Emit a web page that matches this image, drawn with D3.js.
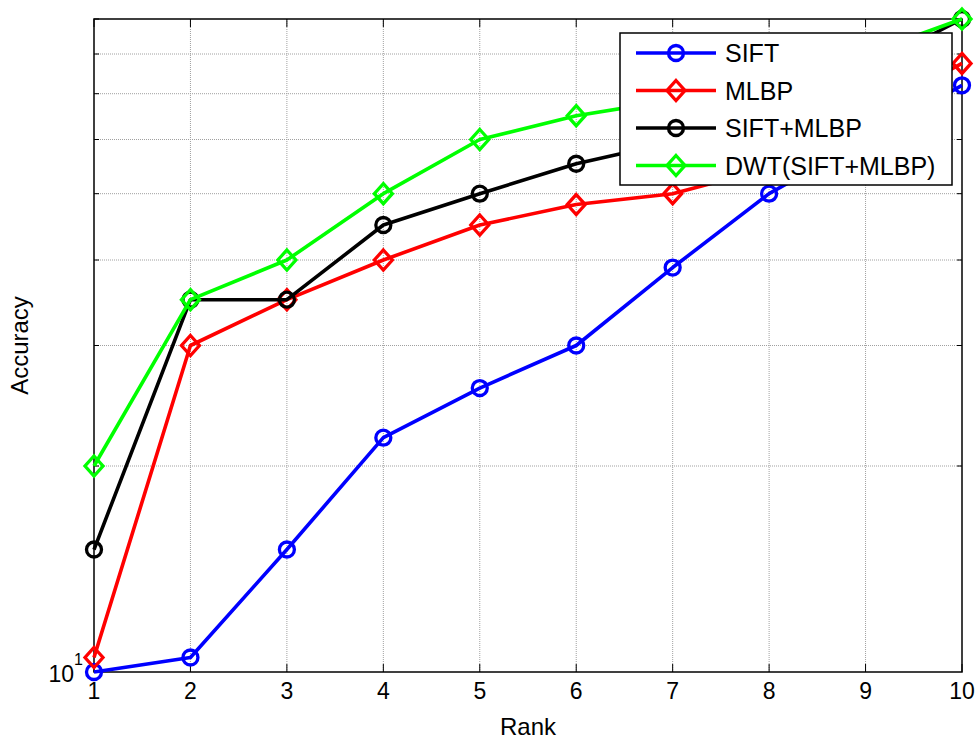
<!DOCTYPE html>
<html>
<head>
<meta charset="utf-8">
<script src="https://cdn.jsdelivr.net/npm/d3@7"></script>
<style>
  body { margin: 0; background: #fff; }
  text { font-family: Arial, "Liberation Sans", sans-serif; }
</style>
</head>
<body>
<script>
// ranks on the x axis
var ranks = [1, 2, 3, 4, 5, 6, 7, 8, 9, 10];
// accuracy per rank (log y axis)
var siftVals     = [10, 10.5, 15.1, 22, 26, 30, 39, 50, 60, 72];
var mlbpVals     = [10.5, 30, 35, 40, 45, 48.2, 50, 54.5, 65, 77.5];
var comboVals    = [15.1, 35, 35, 45, 50, 55.3, 59.5, 66, 76, 90];
var dwtVals      = [20, 35, 40, 50, 60, 65, 68.5, 74, 80, 90];

var seriesNames  = ["SIFT", "MLBP", "SIFT+MLBP", "DWT(SIFT+MLBP)"];
var yGridVals    = [20, 30, 40, 50, 60, 70, 80, 90];

var series = [
  { name: seriesNames[0], vals: siftVals,  color: "#0000ff", marker: "circle" },
  { name: seriesNames[1], vals: mlbpVals,  color: "#ff0000", marker: "diamond" },
  { name: seriesNames[2], vals: comboVals, color: "#000000", marker: "circle" },
  { name: seriesNames[3], vals: dwtVals,   color: "#00ff00", marker: "diamond" }
];

var W = 980, H = 740;
var pLeft = 94, pRight = 962, pTop = 19, pBottom = 672;

var svg = d3.select("body").append("svg")
    .attr("width", W)
    .attr("height", H);

var x = d3.scaleLinear().domain([1, 10]).range([pLeft, pRight]);
var y = d3.scaleLog().domain([10, 90]).range([pBottom, pTop]);

// grid (dotted, MATLAB style)
var grid = svg.append("g");
grid.selectAll(".vg")
    .data(ranks.slice(1, -1))
  .enter().append("line")
    .attr("x1", function(d) { return x(d); })
    .attr("x2", function(d) { return x(d); })
    .attr("y1", pTop).attr("y2", pBottom)
    .attr("stroke", "#a0a0a0").attr("stroke-width", 1)
    .attr("stroke-dasharray", "1,1");
grid.selectAll(".hg")
    .data(yGridVals.slice(0, -1))
  .enter().append("line")
    .attr("y1", function(d) { return y(d); })
    .attr("y2", function(d) { return y(d); })
    .attr("x1", pLeft).attr("x2", pRight)
    .attr("stroke", "#a0a0a0").attr("stroke-width", 1)
    .attr("stroke-dasharray", "1,1");

// tick marks on all sides (inward)
var ticks = svg.append("g").attr("stroke", "#000").attr("stroke-width", 1);
ranks.forEach(function(r) {
  ticks.append("line").attr("x1", x(r)).attr("x2", x(r)).attr("y1", pBottom).attr("y2", pBottom - 8);
  ticks.append("line").attr("x1", x(r)).attr("x2", x(r)).attr("y1", pTop).attr("y2", pTop + 8);
});
yGridVals.forEach(function(v) {
  ticks.append("line").attr("y1", y(v)).attr("y2", y(v)).attr("x1", pLeft).attr("x2", pLeft + 5);
  ticks.append("line").attr("y1", y(v)).attr("y2", y(v)).attr("x1", pRight).attr("x2", pRight - 5);
});

// box
svg.append("rect")
    .attr("x", pLeft).attr("y", pTop)
    .attr("width", pRight - pLeft).attr("height", pBottom - pTop)
    .attr("fill", "none").attr("stroke", "#000").attr("stroke-width", 1.5);

// x tick labels
svg.append("g").selectAll("text")
    .data(ranks)
  .enter().append("text")
    .attr("x", function(d) { return x(d); })
    .attr("y", pBottom + 27)
    .attr("text-anchor", "middle")
    .attr("font-size", 23)
    .text(function(d) { return d; });

// y tick label 10^1
svg.append("text")
    .attr("x", pLeft - 20).attr("y", pBottom + 10)
    .attr("text-anchor", "end")
    .attr("font-size", 23)
    .text("10");
svg.append("text")
    .attr("x", pLeft - 20).attr("y", pBottom - 7)
    .attr("font-size", 16)
    .text("1");

// axis labels
svg.append("text")
    .attr("x", (pLeft + pRight) / 2).attr("y", 735)
    .attr("text-anchor", "middle")
    .attr("font-size", 24)
    .text("Rank");
svg.append("text")
    .attr("transform", "translate(28," + ((pTop + pBottom) / 2) + ") rotate(-90)")
    .attr("text-anchor", "middle")
    .attr("font-size", 24)
    .text("Accuracy");

var line = d3.line()
    .x(function(d, i) { return x(ranks[i]); })
    .y(function(d) { return y(d); });

function drawMarker(g, kind, color, cx, cy) {
  if (kind == "circle") {
    g.append("circle")
      .attr("cx", cx).attr("cy", cy).attr("r", 7.5)
      .attr("fill", "none").attr("stroke", color).attr("stroke-width", 3.3);
  } else {
    g.append("path")
      .attr("d", "M" + cx + "," + (cy - 10) + "L" + (cx + 9) + "," + cy +
                 "L" + cx + "," + (cy + 10) + "L" + (cx - 9) + "," + cy + "Z")
      .attr("fill", "none").attr("stroke", color).attr("stroke-width", 3.3);
  }
}

var plot = svg.append("g");
series.forEach(function(s) {
  var g = plot.append("g");
  g.append("path")
    .datum(s.vals)
    .attr("d", line)
    .attr("fill", "none")
    .attr("stroke", s.color)
    .attr("stroke-width", 3.6)
    .attr("stroke-linejoin", "round");
  s.vals.forEach(function(v, i) {
    drawMarker(g, s.marker, s.color, x(ranks[i]), y(v));
  });
});

// legend
var lg = svg.append("g");
lg.append("rect")
    .attr("x", 620).attr("y", 33)
    .attr("width", 332).attr("height", 152)
    .attr("fill", "#fff").attr("stroke", "#000").attr("stroke-width", 1.5);
series.forEach(function(s, i) {
  var ly = 53 + i * 37.5;
  lg.append("line")
    .attr("x1", 636).attr("x2", 716)
    .attr("y1", ly).attr("y2", ly)
    .attr("stroke", s.color).attr("stroke-width", 3.6);
  drawMarker(lg, s.marker, s.color, 676, ly);
  lg.append("text")
    .attr("x", 725).attr("y", ly + 9)
    .attr("font-size", 25)
    .text(s.name);
});
</script>
</body>
</html>
